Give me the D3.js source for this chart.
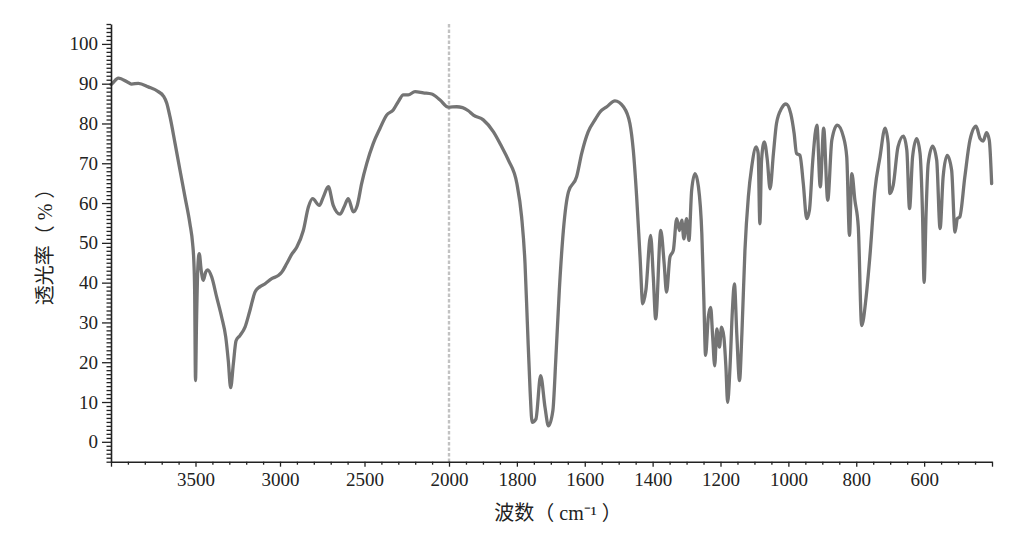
<!DOCTYPE html>
<html><head><meta charset="utf-8">
<script src="https://cdn.jsdelivr.net/npm/d3@7"></script>
<style>
html,body{margin:0;padding:0;background:#fff;}
svg text{font-family:"Liberation Serif","Times New Roman",serif;fill:#222;}
.cjk{font-family:"Liberation Serif","Noto Sans CJK SC",serif;}
</style></head>
<body><svg id="c" width="1029" height="534"></svg>
<script>
const wavenumber = [4000,3996,3957,3898,3878,3838,3779,3720,3690,3670,3651,3621,3592,3562,3533,3517,3510,3505,3500,3494,3486,3478,3466,3454,3440,3428,3404,3375,3345,3321,3306,3292,3276,3260,3237,3207,3178,3148,3118,3089,3049,3010,2990,2960,2931,2901,2862,2832,2807,2767,2744,2714,2685,2645,2621,2596,2566,2543,2517,2487,2448,2408,2369,2330,2300,2270,2241,2201,2152,2102,2053,2004,
  1977,1960,1943,1928,1899,1869,1845,1825,1800,1786,1776,1769,1761,1755,1744,1730,1717,1707,1694,1685,1675,1663,1648,1624,1609,1590,1570,1555,1535,1511,1486,1467,1457,1447,1437,1429,1420,1406,1398,1391,1376,1366,1359,1349,1339,1329,1321,1314,1308,1300,1293,1285,1275,1265,1255,1249,1244,1236,1229,1223,1217,1211,1203,1197,1190,1184,1179,1172,1165,1159,1152,1144,1137,1128,1118,1108,1095,1089,1084,1079,1071,1062,1054,1044,1035,1020,1007,993,983,976,966,956,946,938,928,916,906,896,884,872,856,838,828,820,813,804,794,784,771,760,745,730,715,706,701,691,677,661,651,643,634,622,612,605,600,594,588,575,563,553,544,532,519,509,502,495,480,465,447,435,426,416,408,401];
const transmittance = [89.8,89.9,91.4,90.3,89.9,90.1,89.2,88.0,86.9,85.1,81.7,75.0,68.3,61.5,54.8,49.8,45.5,38,15.4,30,44,47.3,43,40.6,42.6,43.2,41.4,36.4,31.3,26.3,20.4,13.6,19.6,25.4,26.7,28.8,33.0,37.6,39.0,39.7,41.0,41.8,42.6,44.8,47.1,48.9,53.1,59.0,61.1,59.4,61.5,64.1,59.4,57.2,59.0,61.1,57.8,59.4,64.9,69.9,75.0,78.8,82.1,83.4,85.5,87.2,87.2,88.0,87.7,87.4,85.9,84.1,
  84.2,84.0,83.2,82.1,80.9,77.9,74.2,70.8,64.9,56.5,44.8,29.6,12.8,4.9,5.7,16.6,8.6,4.0,7.8,21.2,38.0,53.1,62.8,66.6,72.5,77.9,80.9,82.9,84.2,85.7,84.2,80.0,73.3,61.5,46.4,34.7,38.0,51.9,41.4,30.9,53.1,44.8,37.6,46.4,48.1,56.1,53.1,55.7,51.0,56.1,50.6,63.2,67.4,64.1,52.3,35.5,21.7,31.3,33.8,26.3,19.1,28.4,23.8,28.8,26.3,18.7,9.9,18.7,33.0,39.7,27.1,15.4,27.1,48.1,61.5,69.1,74.1,72.5,54.8,70.8,75.4,70.8,63.6,72.5,80.0,83.8,84.9,82.5,77.5,72.5,72.0,64.9,56.1,58.2,70.8,79.6,64.1,78.8,60.7,75.8,79.6,76.7,71.6,51.9,67.4,60.7,54.0,29.2,36.3,46.4,63.2,71.6,78.8,75.0,62.4,64.5,74.1,76.8,73.3,58.6,71.6,76.2,72.5,58.2,40.1,58.2,69.9,74.3,70.8,53.6,66.6,72.0,68.3,52.7,56.1,56.5,66.6,75.8,79.3,76.2,75.6,77.7,75.8,64.9];
const xTickLabels = [3500,3000,2500,2000,1800,1600,1400,1200,1000,800,600];
const yTickLabels = [0,10,20,30,40,50,60,70,80,90,100];
const xBreak = 2000;
const xTitle = "波数（ cm⁻¹ ）";
const yTitle = "透光率（ % ）";

const svg = d3.select("#c");
const x = d3.scaleLinear().domain([4000, xBreak, 400]).range([111, 449, 992]);
const y = d3.scaleLinear().domain([-5, 105]).range([461.7, 24]);
const axisColor = "#222";

// dashed break line
svg.append("line").attr("x1", x(xBreak)).attr("x2", x(xBreak)).attr("y1", y(105)).attr("y2", y(-5))
  .attr("stroke", "#c2c2c2").attr("stroke-width", 2.4).attr("stroke-dasharray", "3.5,2");

// spectrum
const pts = wavenumber.map((w, i) => [w, transmittance[i]]);
svg.append("path").datum(pts)
  .attr("fill", "none").attr("stroke", "#747474").attr("stroke-width", 3.3)
  .attr("stroke-linejoin", "round").attr("stroke-linecap", "round")
  .attr("d", d3.line().x(d => x(d[0])).y(d => y(d[1])).curve(d3.curveMonotoneX));

// X axis
const minorX = d3.range(3900, 2000, -100).concat(d3.range(1950, 400, -50)).filter(v => !xTickLabels.includes(v));
const gx = svg.append("g").attr("transform", `translate(0,${y(-5)})`);
gx.call(d3.axisBottom(x).tickValues([4000].concat(xTickLabels, [400])).tickSize(5).tickSizeOuter(0).tickPadding(6)
  .tickFormat(d => xTickLabels.includes(d) ? d : ""));
const gxm = svg.append("g").attr("transform", `translate(0,${y(-5)})`);
gxm.call(d3.axisBottom(x).tickValues(minorX).tickSize(3).tickSizeOuter(0).tickFormat(""));
gxm.select(".domain").remove();

// Y axis
const minorY = d3.range(-5, 106, 1).filter(v => !yTickLabels.includes(v));
const gy = svg.append("g").attr("transform", `translate(111,0)`);
gy.call(d3.axisLeft(y).tickValues(yTickLabels).tickSize(9).tickSizeOuter(0).tickPadding(4));
const gym = svg.append("g").attr("transform", `translate(111,0)`);
gym.call(d3.axisLeft(y).tickValues(minorY).tickSize(4.5).tickSizeOuter(0).tickFormat(""));
gym.select(".domain").remove();

svg.selectAll(".domain").attr("stroke", axisColor).attr("stroke-width", 1.6);
svg.selectAll(".tick line").attr("stroke", axisColor).attr("stroke-width", 1.3);
svg.selectAll(".tick text").attr("font-size", 19).attr("fill", "#222")
  .style("font-family", '"Liberation Serif","Times New Roman",serif');

// titles
svg.append("text").attr("class", "cjk").attr("x", 558).attr("y", 520).attr("text-anchor", "middle")
  .attr("font-size", 20).text(xTitle);
svg.append("text").attr("class", "cjk").attr("transform", `translate(52,242) rotate(-90)`)
  .attr("text-anchor", "middle").attr("font-size", 20).text(yTitle);
</script></body></html>
